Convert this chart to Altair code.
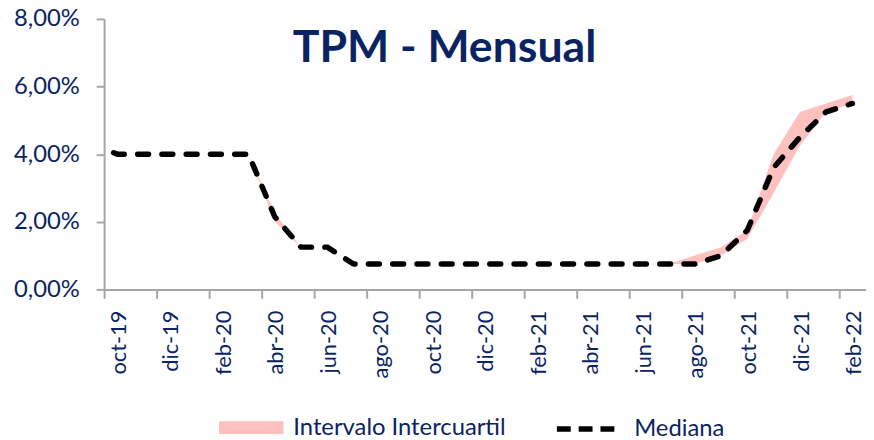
import json
import altair as alt
import pandas as pd

# ---- data ----
meses = ["sep-19", "oct-19", "nov-19", "dic-19", "ene-20", "feb-20", "mar-20", "abr-20",
         "may-20", "jun-20", "jul-20", "ago-20", "sep-20", "oct-20", "nov-20", "dic-20",
         "ene-21", "feb-21", "mar-21", "abr-21", "may-21", "jun-21", "jul-21", "ago-21",
         "sep-21", "oct-21", "nov-21", "dic-21", "ene-22", "feb-22"]
indice = list(range(-1, 29))

mediana = [4.30, 4.00, 4.00, 4.00, 4.00, 4.00, 4.00, 2.15, 1.25, 1.25,
           0.75, 0.75, 0.75, 0.75, 0.75, 0.75, 0.75, 0.75, 0.75, 0.75,
           0.75, 0.75, 0.75, 0.75, 1.00, 1.75, 3.60, 4.50, 5.25, 5.50]
cuartil_inf = [4.30, 4.00, 4.00, 4.00, 4.00, 4.00, 4.00, 2.00, 1.25, 1.25,
               0.75, 0.75, 0.75, 0.75, 0.75, 0.75, 0.75, 0.75, 0.75, 0.75,
               0.75, 0.75, 0.75, 0.75, 1.00, 1.50, 2.85, 4.25, 5.25, 5.50]
cuartil_sup = [4.30, 4.00, 4.00, 4.00, 4.00, 4.00, 4.00, 2.25, 1.25, 1.25,
               0.75, 0.75, 0.75, 0.75, 0.75, 0.75, 0.75, 0.75, 0.75, 0.75,
               0.75, 0.75, 0.75, 1.00, 1.25, 1.75, 4.00, 5.25, 5.50, 5.75]

etiquetas_x = ["oct-19", "dic-19", "feb-20", "abr-20", "jun-20", "ago-20", "oct-20", "dic-20",
               "feb-21", "abr-21", "jun-21", "ago-21", "oct-21", "dic-21", "feb-22"]
ticks_x = [-0.5, 1.5, 3.5, 5.5, 7.5, 9.5, 11.5, 13.5, 15.5, 17.5, 19.5, 21.5, 23.5, 25.5, 27.5]
ticks_y = [0, 2, 4, 6, 8]

NAVY = "#0A2463"
GRIS = "#A6A6A6"
ROSA = "#FFC0C0"
FONT = "Lato"

df = pd.DataFrame({
    "i": indice,
    "mes": meses,
    "mediana": mediana,
    "inf": cuartil_inf,
    "sup": cuartil_sup,
    "banda": "Intervalo Intercuartil",
    "linea": "Mediana",
})

xscale = alt.Scale(domain=[-0.5, 28.52], nice=False, zero=False)
yscale = alt.Scale(domain=[0, 8], nice=False)

label_expr_x = json.dumps(etiquetas_x) + "[round((datum.value + 0.5) / 2)]"

x_axis = alt.Axis(values=ticks_x, labelExpr=label_expr_x, labelAngle=270,
                  labelOffset=14.5, labelPadding=12, tickSize=9, tickWidth=2,
                  tickColor=GRIS, domainColor=GRIS, domainWidth=2, grid=False,
                  labelFont=FONT, labelFontSize=22, labelColor=NAVY, title=None,
                  labelOverlap=False, labelBound=False, labelFlush=False)
y_axis = alt.Axis(values=ticks_y,
                  labelExpr="replace(format(datum.value, '.2f'), '.', ',') + '%'",
                  tickSize=8, tickWidth=2, tickColor=GRIS, domainColor=GRIS, domainWidth=2,
                  grid=False, labelFont=FONT, labelFontSize=24, labelColor=NAVY,
                  labelPadding=17, title=None)

banda = alt.Chart(df).mark_area(clip=True, interpolate="linear").encode(
    x=alt.X("i:Q", scale=xscale, axis=x_axis),
    y=alt.Y("inf:Q", scale=yscale, axis=y_axis),
    y2="sup:Q",
    fill=alt.Fill("banda:N",
                  scale=alt.Scale(domain=["Intervalo Intercuartil"], range=[ROSA]),
                  legend=alt.Legend(orient="none", legendX=116, legendY=380, title=None,
                                    symbolType="M-1,-0.2H1V0.2H-1Z", symbolSize=4225,
                                    symbolStrokeWidth=0, labelFont=FONT, labelFontSize=24,
                                    labelColor=NAVY, labelOffset=10, labelLimit=400,
                                    padding=0)),
)

linea = alt.Chart(df).mark_line(clip=True, strokeWidth=5.5, strokeDash=[11, 13.5],
                                strokeCap="round", strokeJoin="round").encode(
    x=alt.X("i:Q", scale=xscale),
    y=alt.Y("mediana:Q", scale=yscale),
    stroke=alt.Stroke("linea:N",
                      scale=alt.Scale(domain=["Mediana"], range=["#000000"]),
                      legend=alt.Legend(orient="none", legendX=454, legendY=380, title=None,
                                        symbolType="stroke", symbolSize=3844,
                                        symbolStrokeWidth=5.5, symbolDash=[14, 8],
                                        labelFont=FONT, labelFontSize=24, labelColor=NAVY,
                                        labelOffset=13, labelLimit=400, padding=0)),
)

chart = alt.layer(banda, linea).properties(
    width=769,
    height=273,
    autosize=alt.AutoSizeParams(type="none"),
    padding={"left": 97, "top": 9, "right": 0, "bottom": 150},
    title=alt.TitleParams("TPM - Mensual", font=FONT, fontSize=45, fontWeight="bold",
                          color=NAVY, anchor="middle", orient="top", offset=-64, dx=-41),
).configure_view(stroke=None)

chart.save("out.html", embed_options={"renderer": "svg", "actions": False})
